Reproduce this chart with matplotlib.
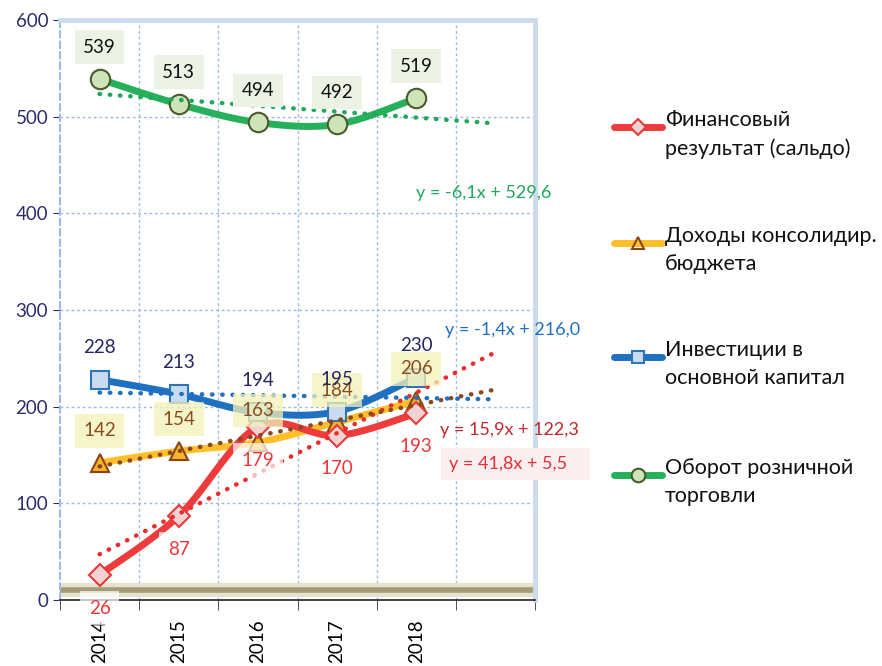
import numpy as np
import matplotlib.pyplot as plt
from matplotlib.lines import Line2D

plt.rcParams['font.family'] = ['Lato', 'DejaVu Sans']

years = ['2014', '2015', '2016', '2017', '2018']
fin_result = [26, 87, 179, 170, 193]
budget_income = [142, 154, 163, 184, 206]
investments = [228, 213, 194, 195, 230]
retail = [539, 513, 494, 492, 519]

names = ['Финансовый\nрезультат (сальдо)',
         'Доходы консолидир.\nбюджета',
         'Инвестиции в\nосновной капитал',
         'Оборот розничной\nторговли']


def smooth(x, y, n=30):
    # Excel-like smoothed line (Catmull-Rom as Bezier)
    p = np.column_stack([x, y]).astype(float)
    p = np.vstack([p[0], p, p[-1]])
    out = []
    for i in range(1, len(p) - 2):
        p0, p1, p2, p3 = p[i - 1], p[i], p[i + 1], p[i + 2]
        c1 = p1 + (p2 - p0) / 6
        c2 = p2 - (p3 - p1) / 6
        t = np.linspace(0, 1, n)[:, None]
        seg = ((1 - t) ** 3 * p1 + 3 * (1 - t) ** 2 * t * c1
               + 3 * (1 - t) * t ** 2 * c2 + t ** 3 * p2)
        out.append(seg)
    s = np.vstack(out)
    return s[:, 0], s[:, 1]


fig = plt.figure(figsize=(8.82, 6.66), dpi=100)
ax = fig.add_axes([60 / 882, 1 - 600 / 666, 475 / 882, 580 / 666])

x = np.arange(1, len(years) + 1)

series = [
    dict(y=fin_result, color='#ee3b3b', marker='D', mfc='#f2d3d3', mec='#e83a3a', ms=11,
         tcolor='#ee2b2b', trend=(41.8, 5.5), lbl_color='#ee3535', lbl_off=-24,
         lbl_bg='white', lbl_alpha=0.7, z=4.2),
    dict(y=budget_income, color='#ffbf2a', marker='^', mfc='#f7b32b', mec='#8b4513', ms=13,
         tcolor='#8b4a1e', trend=(15.9, 122.3), lbl_color='#8b4a1e', lbl_off=23,
         lbl_bg='#f3f2b8', lbl_alpha=0.75, z=3.0),
    dict(y=investments, color='#1f70c1', marker='s', mfc='#c9dcef', mec='#2e75b6', ms=13,
         tcolor='#1f70c1', trend=(-1.4, 216.0), lbl_color='#25255e', lbl_off=23,
         lbl_bg=None, lbl_alpha=0, z=5.0),
    dict(y=retail, color='#26b05b', marker='o', mfc='#cde3b8', mec='#4b5a2a', ms=14,
         tcolor='#1fa85a', trend=(-6.1, 529.6), lbl_color='#111111', lbl_off=23,
         lbl_bg='#edf3e4', lbl_alpha=1, z=6.0),
]

# background band near zero
ax.axhspan(3, 18, color='#e6e2cf', zorder=1, lw=0)
ax.axhline(10.5, color='#a39b78', lw=4, zorder=1.1)

for s in series:
    sx, sy = smooth(x, s['y'])
    ax.plot(sx, sy, color=s['color'], lw=5, solid_capstyle='round', zorder=s['z'])
    ax.plot(x, s['y'], ls='none', marker=s['marker'], ms=s['ms'], mfc=s['mfc'],
            mec=s['mec'], mew=1.5, zorder=s['z'] + 0.5)

# trendlines (forecast one period forward)
tx = np.array([1, 6])
for s in series:
    a, b = s['trend']
    ax.plot(tx, a * tx + b, ls=(0, (0.1, 2.2)), lw=3.2, dash_capstyle='round',
            color=s['tcolor'], zorder=9)

# data labels
for s in series:
    for xi, v in zip(x, s['y']):
        bbox = None
        if s['lbl_bg']:
            bbox = dict(boxstyle='square,pad=0.45', fc=s['lbl_bg'], ec='none',
                        alpha=s['lbl_alpha'])
        ax.annotate(str(v), (xi, v), xytext=(0, s['lbl_off']), textcoords='offset points',
                    ha='center', va='center', fontsize=13.5, color=s['lbl_color'],
                    bbox=bbox, zorder=10)

# trend equations
ax.text(5.0, 421, 'y = -6,1x + 529,6', color='#1fa85a', fontsize=13, va='center', zorder=10,
        clip_on=False)
ax.text(5.36, 279, 'y = -1,4x + 216,0', color='#1f70c1', fontsize=13, va='center', zorder=10,
        clip_on=False)
ax.text(5.3, 176, 'y = 15,9x + 122,3', color='#c0272d', fontsize=13, va='center', zorder=10,
        clip_on=False)
ax.text(5.42, 141, 'y = 41,8x + 5,5   ', color='#e0303a', fontsize=13, va='center', zorder=10,
        clip_on=False, bbox=dict(boxstyle='square,pad=0.45', fc='#fbeeee', ec='none'))

ax.set_xlim(0.5, 6.5)
ax.set_ylim(0, 600)
ax.set_yticks(range(0, 601, 100))
ax.tick_params(axis='y', colors='#2d2d6b', labelsize=13.5, length=5, labelcolor='#2d2d6b')
ax.set_xticks(x)
ax.set_xticklabels(years, rotation=90, fontsize=13.5)
ax.set_xticks(np.arange(0.5, 6.6, 1), minor=True)
ax.tick_params(axis='x', which='major', length=0, pad=14)
ax.tick_params(axis='x', which='minor', length=7, color='#333333')

ax.grid(False)
for xv in np.arange(1.5, 6.5, 1):
    ax.axvline(xv, color='#9dbbe3', lw=1, ls=(0, (2, 2)), zorder=0.5)
for yv in range(100, 600, 100):
    ax.axhline(yv, color='#9dbbe3', lw=1, ls=(0, (2, 2)), zorder=0.5)

ax.spines['top'].set_color('#cbdcee')
ax.spines['top'].set_linewidth(3.5)
ax.spines['right'].set_color('#cbdcee')
ax.spines['right'].set_linewidth(3.5)
ax.spines['left'].set_color('#9dbbe3')
ax.spines['left'].set_linestyle((0, (3, 2)))
ax.spines['left'].set_linewidth(1.5)
ax.spines['bottom'].set_color('#222222')
ax.spines['bottom'].set_linewidth(1.2)

# legend drawn by hand
legend_y = [127, 243, 357, 475]
for s, name, ly in zip(series, names, legend_y):
    yf = 1 - ly / 666
    fig.add_artist(Line2D([614 / 882, 662 / 882], [yf, yf], color=s['color'], lw=5,
                          solid_capstyle='round', transform=fig.transFigure))
    fig.add_artist(Line2D([638 / 882], [yf], ls='none', marker=s['marker'],
                          ms=s['ms'] * 0.7, mfc=s['mfc'] if s is not series[1] else 'none',
                          mec=s['mec'], mew=1.5, transform=fig.transFigure))
    fig.text(665 / 882, yf + 0.025, name, fontsize=15.5, va='top', ha='left',
             linespacing=1.5, color='#111111')

fig.savefig('out.png', dpi=100)
